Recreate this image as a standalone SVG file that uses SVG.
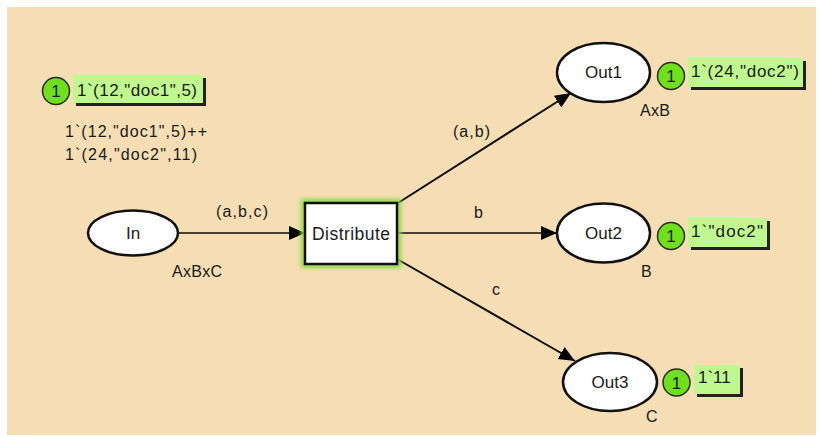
<svg xmlns="http://www.w3.org/2000/svg" width="819" height="437" viewBox="0 0 819 437">
<defs>
<style>
text{font-family:"Liberation Sans",Arial,sans-serif;fill:#1a1a1a;}
.place{fill:#fff;stroke:#111;stroke-width:2.5;}
.lbl{font-size:16px;}
.name{font-size:17px;text-anchor:middle;}
.tok{fill:#6ee01c;stroke:#2a2a2a;stroke-width:1.5;}
.tokt{font-size:17px;text-anchor:middle;}
.mbox{fill:#c0f890;}
.mshadow{fill:#222;}
.mtext{font-size:17px;}
.arc{stroke:#111;stroke-width:2;fill:none;marker-end:url(#ah);}
.harc{stroke:#4a4030;stroke-width:1.8;fill:none;marker-end:url(#ah);}
</style>
<marker id="ah" markerUnits="userSpaceOnUse" markerWidth="18" markerHeight="16" refX="16" refY="7" orient="auto">
<path d="M0,0 L16,7 L0,14 z" fill="#000"/>
</marker>
<filter id="glow" x="-20%" y="-20%" width="140%" height="140%">
<feGaussianBlur stdDeviation="2"/>
</filter>
</defs>
<rect x="7" y="7" width="809" height="428" fill="#f5deb3"/>

<g id="connectors">
<line class="harc" x1="178" y1="233" x2="305" y2="233"/>
<line class="arc" x1="398" y1="203" x2="571" y2="93"/>
<line class="harc" x1="397" y1="233" x2="557" y2="233"/>
<line class="arc" x1="397" y1="259" x2="575" y2="361"/>
<text class="lbl" x="216" y="217" textLength="52" lengthAdjust="spacing">(a,b,c)</text>
<text class="lbl" x="453" y="137" textLength="37" lengthAdjust="spacing">(a,b)</text>
<text class="lbl" x="474" y="218">b</text>
<text class="lbl" x="492" y="295">c</text>
</g>

<g id="In">
<ellipse class="place" cx="133" cy="233" rx="45" ry="22.5"/>
<text class="name" x="133" y="239">In</text>
<text class="lbl" x="172" y="277" textLength="50" lengthAdjust="spacing">AxBxC</text>
<text class="lbl" x="65" y="137" textLength="142" lengthAdjust="spacing">1`(12,"doc1",5)++</text>
<text class="lbl" x="65" y="160" textLength="132" lengthAdjust="spacing">1`(24,"doc2",11)</text>
<circle class="tok" cx="56" cy="91" r="13.5"/>
<text class="tokt" x="56" y="97">1</text>
<rect class="mshadow" x="76" y="78" width="130" height="28"/>
<rect class="mbox" x="73" y="75" width="130" height="28"/>
<text class="mtext" x="77" y="96" textLength="120" lengthAdjust="spacing">1`(12,"doc1",5)</text>
</g>

<g id="Distribute">
<rect x="301" y="199" width="100" height="69" fill="#8ed846" filter="url(#glow)"/>
<rect x="305" y="203" width="92" height="61" fill="#fff" stroke="#111" stroke-width="2.5"/>
<text x="351" y="240" font-size="17.5" text-anchor="middle" textLength="78" lengthAdjust="spacing">Distribute</text>
</g>

<g id="Out1">
<ellipse class="place" cx="603.5" cy="72.5" rx="46.5" ry="29.5"/>
<text class="name" x="603.5" y="78">Out1</text>
<text class="lbl" x="640" y="116" textLength="30" lengthAdjust="spacing">AxB</text>
<circle class="tok" cx="671" cy="76" r="13.5"/>
<text class="tokt" x="671" y="82">1</text>
<rect class="mshadow" x="691" y="61" width="115" height="29"/>
<rect class="mbox" x="688" y="58" width="115" height="29"/>
<text class="mtext" x="691" y="77" textLength="108" lengthAdjust="spacing">1`(24,"doc2")</text>
</g>

<g id="Out2">
<ellipse class="place" cx="603.5" cy="233" rx="46.5" ry="29.5"/>
<text class="name" x="603.5" y="239">Out2</text>
<text class="lbl" x="641" y="277">B</text>
<circle class="tok" cx="671" cy="236" r="13.5"/>
<text class="tokt" x="671" y="242">1</text>
<rect class="mshadow" x="691" y="221" width="79" height="29"/>
<rect class="mbox" x="688" y="218" width="79" height="29"/>
<text class="mtext" x="691" y="237" textLength="72" lengthAdjust="spacing">1`"doc2"</text>
</g>

<g id="Out3">
<ellipse class="place" cx="610" cy="382" rx="47" ry="29"/>
<text class="name" x="610" y="388">Out3</text>
<text class="lbl" x="646" y="422">C</text>
<circle class="tok" cx="676.5" cy="382.5" r="13.5"/>
<text class="tokt" x="676.5" y="388.5">1</text>
<rect class="mshadow" x="697" y="368" width="46" height="29"/>
<rect class="mbox" x="694" y="365" width="46" height="29"/>
<text class="mtext" x="698" y="383">1`11</text>
</g>
</svg>
